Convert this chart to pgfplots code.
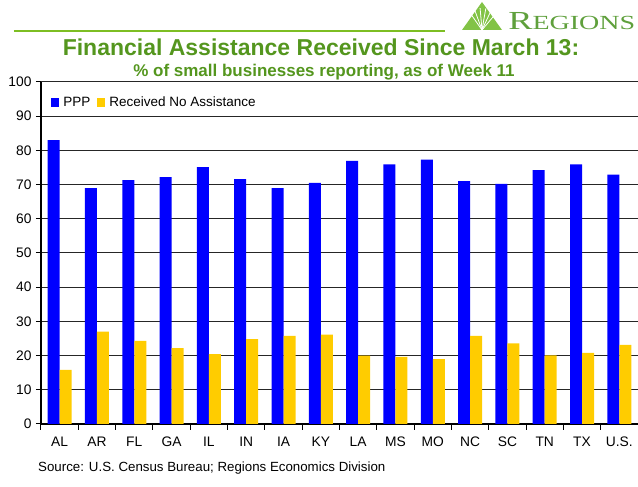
\documentclass[border=0pt]{standalone}
\usepackage{fontspec}
\setmainfont{Liberation Sans}
\newfontfamily\seriffont{Liberation Serif}
\usepackage{pgfplots}
\pgfplotsset{compat=1.18}
\definecolor{ppp}{RGB}{0,0,255}
\definecolor{nona}{RGB}{255,204,0}
\definecolor{titlegreen}{RGB}{84,150,30}
\definecolor{linegreen}{RGB}{125,190,35}
\definecolor{logogreen}{RGB}{130,195,70}
\definecolor{logotext}{RGB}{95,160,60}

\pgfplotstableread{
x ppp none
0 83.0 15.8
1 69.0 27.0
2 71.3 24.3
3 72.2 22.2
4 75.1 20.4
5 71.6 24.8
6 69.0 25.8
7 70.5 26.1
8 76.9 20.0
9 75.9 19.6
10 77.3 19.0
11 71.0 25.8
12 70.2 23.6
13 74.2 20.1
14 75.9 20.8
15 72.9 23.1
}\data

\begin{document}
\begin{tikzpicture}
\useasboundingbox (-41pt,-63pt) rectangle (597pt,424pt);
\begin{axis}[
 scale only axis, width=597pt, height=342pt,
 at={(0pt,0pt)}, anchor=south west,
 xmin=-0.5, xmax=15.5, ymin=0, ymax=100,
 enlarge x limits=false,
 ytick={0,10,...,100},
 xtick={0,...,15},
 xticklabels={AL,AR,FL,GA,IL,IN,IA,KY,LA,MS,MO,NC,SC,TN,TX,U.S.},
 minor xtick={-0.5,0.5,...,15.5},
 axis x line*=bottom, axis y line*=left,
 axis line style={line width=1.2pt, -},
 tick align=outside,
 major tick length=5pt, minor tick length=6pt,
 major x tick style={draw=none},
 minor x tick style={line width=1pt, black},
 y tick style={line width=1pt, black},
 ymajorgrids, grid style={line width=1pt, black!85},
 tick label style={font=\fontsize{13.8}{15}\selectfont},
 xticklabel style={yshift=-4pt},
 yticklabel style={xshift=-1pt},
 /pgf/number format/assume math mode=true,
 ybar, bar width=12pt,
 legend style={at={(0.012,0.94)}, anchor=west, draw=none, fill=none,
   font=\fontsize{13.5}{15}\selectfont, column sep=2pt,
   /tikz/every even column/.append style={column sep=5pt}},
 legend columns=2,
 legend image code/.code={\fill[#1] (0pt,-4.5pt) rectangle (8pt,4.5pt);},
]
\addplot[fill=ppp, draw=none, bar shift=-6pt] table[x=x,y=ppp]{\data};
\addplot[fill=nona, draw=none, bar shift=6pt] table[x=x,y=none]{\data};
\legend{PPP,Received No Assistance}
\end{axis}
% header
\draw[linegreen, line width=2.5pt] (-27pt,393pt) -- (404pt,393pt);
\node[font=\bfseries\fontsize{23}{26}\selectfont, text=titlegreen] at (280pt,377pt) {Financial Assistance Received Since March 13:};
\node[font=\bfseries\fontsize{17}{19}\selectfont, text=titlegreen] at (283pt,352pt) {\% of small businesses reporting, as of Week 11};
% logo
\fill[logogreen] (421pt,394pt) -- (461pt,394pt) -- (441pt,422pt) -- cycle;
\foreach \a in {50,65,80,95,110,125} {
  \draw[white, line width=0.8pt] (441pt,394pt) -- ++(\a:22pt);
}
\node[anchor=base west, inner sep=0pt, text=logotext, xscale=1.4] at (467pt,394pt)
  {\seriffont\fontsize{26}{26}\selectfont R\fontsize{20}{20}\selectfont EGIONS};
% source
\node[anchor=base west, inner sep=0pt, font=\fontsize{13.3}{15}\selectfont] at (-3pt,-48pt)
  {Source: U.S. Census Bureau; Regions Economics Division};
\end{tikzpicture}
\end{document}
